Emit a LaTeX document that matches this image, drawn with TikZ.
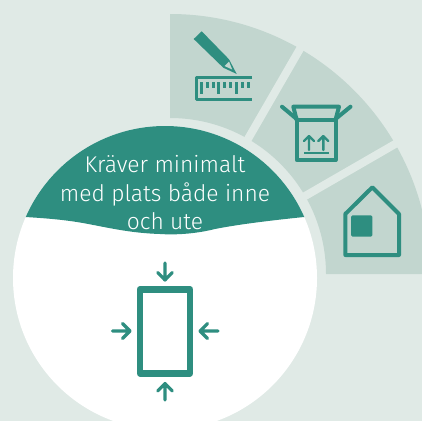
\documentclass[tikz,border=0pt]{standalone}
\usepackage{fontspec}
\setmainfont{Fira Sans}[UprightFont=* Light]
\definecolor{bgc}{HTML}{E0EAE6}
\definecolor{wedge}{HTML}{C2D6CF}
\definecolor{teal1}{HTML}{2E8E80}
\tikzset{
  icon/.style={draw=teal1,line width=4pt,line join=round,line cap=round},
  thin icon/.style={draw=teal1,line width=3.2pt,line join=round,line cap=round},
  fine icon/.style={draw=teal1,line width=2.4pt,line join=round,line cap=round},
  label text/.style={text=white,font=\fontsize{22.8}{28.5}\selectfont,align=center,inner sep=0pt},
}
\begin{document}
\begin{tikzpicture}[x=1pt,y=-1pt]
\useasboundingbox (0,0) rectangle (422,421);
\fill[bgc] (0,0) rectangle (422,421);
\begin{scope}
\clip (0,0) rectangle (422,421);
% ring of three sectors
\fill[wedge] (170,14) arc[start angle=90,end angle=0,x radius=260pt,y radius=260pt] -- ++(-104,0)
  arc[start angle=0,end angle=90,x radius=156pt,y radius=156pt] -- cycle;
\draw[bgc,line width=8pt] (170,274) ++(30:150pt) -- ++(30:120pt);
\draw[bgc,line width=8pt] (170,274) ++(60:150pt) -- ++(60:120pt);
% white disc with teal cap
\fill[white] (165,278) circle[radius=152pt];
\begin{scope}
\clip (165,278) circle[radius=152pt];
\fill[teal1] (0,100) -- (340,100) -- (340,217) -- (304,217)
  .. controls (265,221) and (235,225) .. (215,229)
  .. controls (195,234) and (175,235) .. (160,234)
  .. controls (130,233) and (110,228) .. (83,223)
  .. controls (60,219) and (40,218) .. (26,217) -- (0,217) -- cycle;
\end{scope}
\end{scope}
\node[label text] (caption) at (165,193) {Kräver minimalt\\med plats både inne\\och ute};
% pencil
\fill[teal1] (193.7,39) -- (201.7,31.3) -- (229,59.3) -- (236.7,74) -- (223.3,67.7) -- cycle;
\fill[wedge] (229,61.5) -- (232.2,69.5) -- (224.5,66) -- cycle;
% ruler
\draw[draw=teal1,line width=3pt,line join=round] (252,77.7) -- (196.5,77.7) -- (196.5,99.3) -- (252,99.3);
\foreach \i/\b in {0/94,1/87.7,2/87.7,3/94,4/87.7,5/87.7,6/94,7/87.7,8/87.7}
  \fill[teal1] ({200+\i*5.83},81.7) rectangle ({203+\i*5.83},\b);
% box
\draw[icon] (296.7,120) -- (296.7,160) -- (335.5,160) -- (335.5,120) -- cycle;
\draw[icon] (296.7,120) -- (293.3,106.7) -- (339,106.7) -- (335.5,120);
\draw[icon] (296.7,119) -- (282,106.7);
\draw[icon] (335.5,119) -- (350.5,106.7);
\draw[fine icon] (309,150) -- (309,136.5) (304,141) -- (309,136) -- (314,141);
\draw[fine icon] (323.3,150) -- (323.3,136.5) (318.3,141) -- (323.3,136) -- (328.3,141);
\draw[draw=teal1,line width=2pt] (304,152.8) -- (328.7,152.8);
% house
\draw[icon] (372.3,187.3) -- (399,214) -- (399,255) -- (345.3,255) -- (345.3,214) -- cycle;
\fill[teal1,rounded corners=1.5pt] (351,215.3) rectangle (372.3,236.7);
% tall rectangle with arrows
\draw[draw=teal1,line width=6.6pt,line join=round] (140,289.3) rectangle (190,373.3);
\draw[thin icon] (165,263) -- (165,280) (157.7,272.5) -- (165,280) -- (172.3,272.5);
\draw[thin icon] (165,400) -- (165,383.5) (157.7,391) -- (165,383.5) -- (172.3,391);
\draw[thin icon] (112.5,331) -- (130,331) (122.5,323.5) -- (130,331) -- (122.5,338.5);
\draw[thin icon] (218,331) -- (200,331) (207.5,323.5) -- (200,331) -- (207.5,338.5);
\end{tikzpicture}
\end{document}
